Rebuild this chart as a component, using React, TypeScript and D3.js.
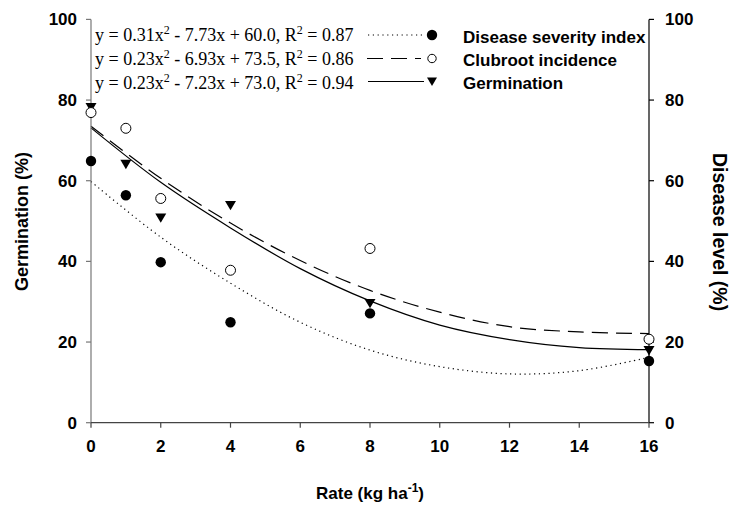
import React from "react";
import * as d3 from "d3";

const rates = [0, 1, 2, 4, 8, 16];
const severity = [64.9, 56.4, 39.8, 24.9, 27.1, 15.3];
const incidence = [76.9, 73.0, 55.6, 37.8, 43.2, 20.7];
const germination = [78.2, 64.1, 50.8, 53.9, 29.6, 17.9];

const fitX = [0, 2, 4, 6, 8, 10, 12, 14, 16];
const severityFit = [59.8, 46.0, 34.6, 24.9, 18.0, 13.9, 12.1, 12.9, 16.2];
const incidenceFit = [73.5, 60.6, 49.5, 40.2, 32.8, 27.4, 23.8, 22.5, 22.1];
const germinationFit = [73.1, 59.6, 48.3, 38.2, 30.2, 24.2, 20.6, 18.6, 18.1];

const xTicks = [0, 2, 4, 6, 8, 10, 12, 14, 16];
const yTicks = [0, 20, 40, 60, 80, 100];

const equations = [
  { a: "0.31", b: "7.73", c: "60.0", r2: "0.87" },
  { a: "0.23", b: "6.93", c: "73.5", r2: "0.86" },
  { a: "0.23", b: "7.23", c: "73.0", r2: "0.94" },
];
const seriesNames = ["Disease severity index", "Clubroot incidence", "Germination"];

const W = 730, H = 509;
const L = 91, R = 649, T = 19.4, B = 422.7;

export default function App() {
  const x = d3.scaleLinear().domain([0, 16]).range([L, R]);
  const y = d3.scaleLinear().domain([0, 100]).range([B, T]);
  const line = d3
    .line<[number, number]>()
    .x((d) => x(d[0]))
    .y((d) => y(d[1]))
    .curve(d3.curveCatmullRom.alpha(0.5));
  const mk = (vals: number[]) => line(fitX.map((v, i) => [v, vals[i]] as [number, number])) || "";

  const sans = "Arial, 'Liberation Sans', Helvetica, sans-serif";
  const serif = "'Times New Roman', 'Liberation Serif', serif";
  const tri = (cx: number, cy: number, s = 5.5) =>
    `M${cx - s},${cy - s * 0.8}L${cx + s},${cy - s * 0.8}L${cx},${cy + s * 0.9}Z`;

  const legendY = [35, 58.5, 81.5];
  const eqBase = [40.5, 64.5, 88.5];
  const labBase = [42.5, 65.5, 88.5];

  return (
    <svg width={W} height={H} style={{ position: "absolute", left: 0, top: 0, background: "#fff" }}>
      {/* fitted curves */}
      <path d={mk(severityFit)} fill="none" stroke="#000" strokeWidth={1.2} strokeDasharray="1.2,3.6" />
      <path d={mk(incidenceFit)} fill="none" stroke="#000" strokeWidth={1.2} strokeDasharray="16,8" />
      <path d={mk(germinationFit)} fill="none" stroke="#000" strokeWidth={1.2} />

      {/* axes */}
      <line x1={L} x2={L} y1={T} y2={B} stroke="#777" strokeWidth={1.2} />
      <line x1={R} x2={R} y1={T} y2={B} stroke="#000" strokeWidth={1.2} />
      <line x1={L} x2={R} y1={B} y2={B} stroke="#444" strokeWidth={1.2} />
      {yTicks.map((t) => (
        <g key={"y" + t}>
          <line x1={L - 5} x2={L} y1={y(t)} y2={y(t)} stroke="#777" strokeWidth={1.2} />
          <line x1={R} x2={R + 5} y1={y(t)} y2={y(t)} stroke="#000" strokeWidth={1.2} />
          <text x={77} y={y(t) + 6} textAnchor="end" fontFamily={sans} fontWeight="bold" fontSize={17}>
            {t}
          </text>
          <text x={665} y={y(t) + 6} textAnchor="start" fontFamily={sans} fontWeight="bold" fontSize={17}>
            {t}
          </text>
        </g>
      ))}
      {xTicks.map((t) => (
        <g key={"x" + t}>
          <line x1={x(t)} x2={x(t)} y1={B} y2={B + 5} stroke="#444" strokeWidth={1.2} />
          <text x={x(t)} y={452} textAnchor="middle" fontFamily={sans} fontWeight="bold" fontSize={17}>
            {t}
          </text>
        </g>
      ))}

      {/* axis titles */}
      <text
        transform={`translate(28,${221.5}) rotate(-90)`}
        textAnchor="middle"
        fontFamily={sans}
        fontWeight="bold"
        fontSize={18}
      >
        Germination (%)
      </text>
      <text
        transform={`translate(713,${232}) rotate(90)`}
        textAnchor="middle"
        fontFamily={sans}
        fontWeight="bold"
        fontSize={19.5}
      >
        Disease level (%)
      </text>
      <text x={370} y={499} textAnchor="middle" fontFamily={sans} fontWeight="bold" fontSize={17}>
        Rate (kg ha
        <tspan dy={-7} fontSize={12}>-1</tspan>
        <tspan dy={7}>)</tspan>
      </text>

      {/* data points */}
      {rates.map((r, i) => (
        <g key={"p" + r}>
          <path d={tri(x(r), y(germination[i]))} fill="#000" />
          <circle cx={x(r)} cy={y(incidence[i])} r={5} fill="#fff" stroke="#000" strokeWidth={1} />
          <circle cx={x(r)} cy={y(severity[i])} r={5.2} fill="#000" />
        </g>
      ))}

      {/* legend */}
      {equations.map((e, i) => (
        <text key={"eq" + i} x={95} y={eqBase[i]} fontFamily={serif} fontSize={18}>
          {`y = ${e.a}x`}
          <tspan dy={-7} fontSize={12}>2</tspan>
          <tspan dy={7}>{` - ${e.b}x + ${e.c}, R`}</tspan>
          <tspan dy={-7} fontSize={12}>2</tspan>
          <tspan dy={7}>{` = ${e.r2}`}</tspan>
        </text>
      ))}
      <line x1={368} x2={423} y1={legendY[0]} y2={legendY[0]} stroke="#000" strokeWidth={1.2} strokeDasharray="1.2,3.6" />
      <circle cx={432} cy={legendY[0]} r={5.2} fill="#000" />
      <line x1={367} x2={421} y1={legendY[1]} y2={legendY[1]} stroke="#000" strokeWidth={1.2} strokeDasharray="16,8" />
      <circle cx={432} cy={legendY[1]} r={4.2} fill="#fff" stroke="#000" strokeWidth={1} />
      <line x1={368} x2={424} y1={legendY[2]} y2={legendY[2]} stroke="#000" strokeWidth={1.2} />
      <path d={tri(432, legendY[2], 5)} fill="#000" />
      {seriesNames.map((n, i) => (
        <text key={n} x={463} y={labBase[i]} fontFamily={sans} fontWeight="bold" fontSize={17}>
          {n}
        </text>
      ))}
    </svg>
  );
}
